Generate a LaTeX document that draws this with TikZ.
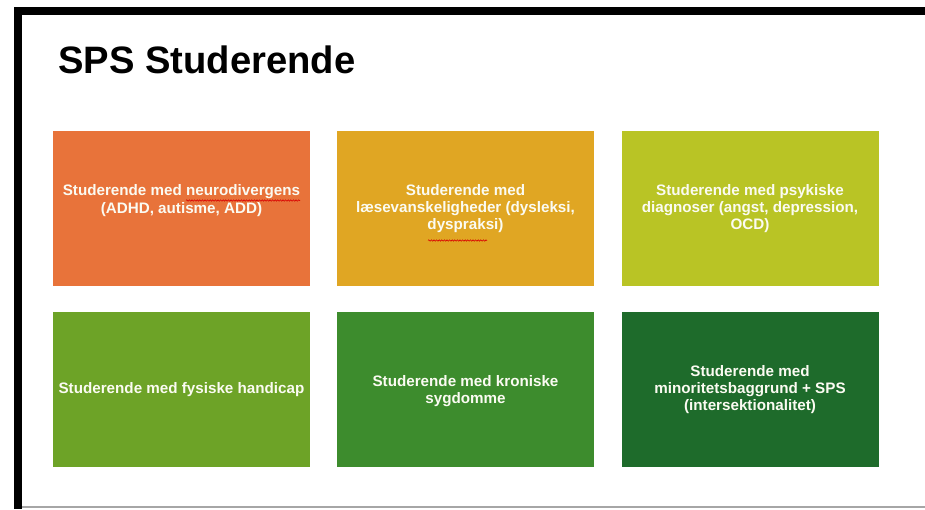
\documentclass[tikz,border=0pt]{standalone}
\usepackage{fontspec}
\setmainfont{Liberation Sans}
\usetikzlibrary{decorations.pathmorphing}
\definecolor{tileA}{HTML}{E8733A}
\definecolor{tileB}{HTML}{E0A623}
\definecolor{tileC}{HTML}{B9C425}
\definecolor{tileD}{HTML}{6DA327}
\definecolor{tileE}{HTML}{3D8C2D}
\definecolor{tileF}{HTML}{1E6B2B}
\definecolor{textcream}{HTML}{FBFBF2}
\tikzset{
  tile/.style={rectangle, draw=none, minimum width=257pt, minimum height=155pt, inner sep=0pt},
  tiletext/.style={text=textcream, font=\fontsize{15.2}{17.2}\selectfont\bfseries, align=center, inner sep=0pt},
  framebar/.style={fill=black, draw=none},
  spell/.style={draw=red!85!black, line width=0.6pt, decorate, decoration={snake, amplitude=0.7pt, segment length=2.6pt}}
}
\begin{document}
\begin{tikzpicture}[x=1pt, y=-1pt]
  \useasboundingbox (0,0) rectangle (925,509);
  \fill[white] (0,0) rectangle (925,509);

  % slide frame
  \path[framebar] (14,7) rectangle (925,15);
  \path[framebar] (14,7) rectangle (22,509);
  \draw[gray!70, line width=1.4pt] (22,507) -- (925,507);

  % heading
  \node[anchor=base west, inner sep=0pt, font=\fontsize{38.2}{40}\selectfont\bfseries] (title) at (58,73.5) {SPS Studerende};

  % first row of tiles
  \node[tile, fill=tileA] (b1) at (181.5,208.5) {};
  \node[tile, fill=tileB] (b2) at (465.5,208.5) {};
  \node[tile, fill=tileC] (b3) at (750,208.5) {};
  % second row of tiles
  \node[tile, fill=tileD] (b4) at (181.5,389.5) {};
  \node[tile, fill=tileE] (b5) at (465.5,389.5) {};
  \node[tile, fill=tileF] (b6) at (750,389.5) {};

  \node[tiletext] (t1) at ([yshift=8pt]b1.center) {Studerende med neurodivergens\\(ADHD, autisme, ADD)};
  \node[tiletext] (t2) at ([yshift=0pt]b2.center) {Studerende med\\læsevanskeligheder (dysleksi,\\dyspraksi)};
  \node[tiletext] (t3) at ([yshift=0pt]b3.center) {Studerende med psykiske\\diagnoser (angst, depression,\\OCD)};
  \node[tiletext] (t4) at ([yshift=0.4pt]b4.center) {Studerende med fysiske handicap};
  \node[tiletext] (t5) at ([yshift=-1.5pt]b5.center) {Studerende med kroniske\\sygdomme};
  \node[tiletext] (t6) at ([yshift=0.2pt]b6.center) {Studerende med\\minoritetsbaggrund + SPS\\(intersektionalitet)};

  % spell-check marks
  \draw[spell] (186,200.5) -- (300,200.5);
  \draw[spell] (428,240.5) -- (487,240.5);
\end{tikzpicture}
\end{document}
